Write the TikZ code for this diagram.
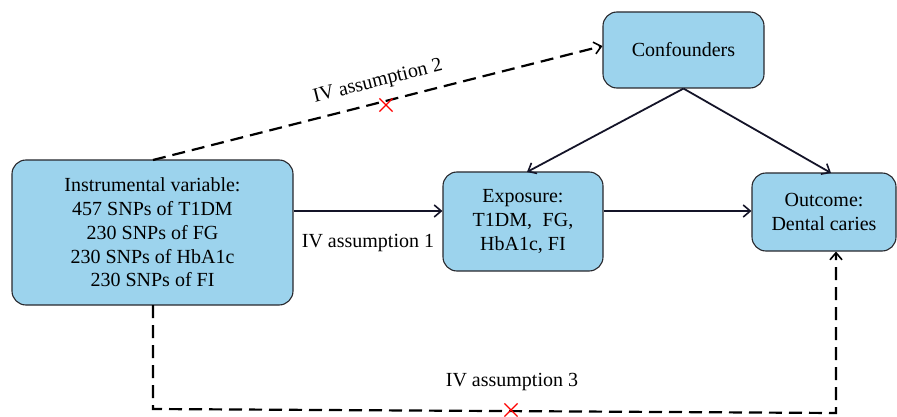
\documentclass[tikz,border=0pt]{standalone}
\usepackage{fontspec}
\setmainfont{Liberation Serif}
\usetikzlibrary{arrows.meta,shapes.misc}
\definecolor{boxblue}{RGB}{156,211,237}
\definecolor{boxline}{RGB}{40,40,45}
\definecolor{arrowc}{RGB}{20,20,40}
\begin{document}
\begin{tikzpicture}[x=1pt,y=-1pt,
  box/.style={draw=boxline, line width=1.1pt, fill=boxblue, rounded corners=14pt, align=center, font=\fontsize{20}{23.7}\selectfont, inner sep=0pt},
  arr/.style={draw=arrowc, line width=1.8pt, -{Straight Barb[length=7pt,width=12pt,line width=1.6pt]}},
  darr/.style={draw=black, line width=2.2pt, dash pattern=on 13pt off 7pt, -{Straight Barb[length=7pt,width=12pt,line width=1.6pt]}},
  lbl/.style={font=\fontsize{20}{24}\selectfont, inner sep=0pt},
  cross/.style={cross out, draw=red, line width=1.2pt, minimum size=12pt, inner sep=0pt}
]
\useasboundingbox (0,0) rectangle (897,417);
\node[box, minimum width=281pt, minimum height=145pt] (iv) at (152.5,232.5)
  {Instrumental variable:\\457 SNPs of T1DM\\230 SNPs of FG\\230 SNPs of HbA1c\\230 SNPs of FI};
\node[box, minimum width=160pt, minimum height=99pt] (exp) at (523,221.5)
  {Exposure:\\ T1DM,\; FG,\\HbA1c, FI};
\node[box, minimum width=161pt, minimum height=76pt] (conf) at (683.5,50) {Confounders};
\node[box, minimum width=144pt, minimum height=78pt] (out) at (824,212) {Outcome:\\Dental caries};

\draw[arr] (iv.east |- 0,211) -- (exp.west |- 0,211);
\draw[arr] (exp.east |- 0,211) -- (out.west |- 0,211);
\draw[arr] (conf.south) -- (527,172);
\draw[arr] (conf.south) -- (831,173);

\coordinate (ivtop) at (153,160);
\coordinate (ivbot) at (153,305);
\coordinate (bl) at (153,409);
\coordinate (br) at (836,413);
\draw[darr] (ivtop) -- (conf.west |- 0,46);
\draw[darr] (ivbot) -- (bl) -- (br) -- (out.south -| 836,0);

\node[lbl, rotate=14] (a2) at (378,82) {IV assumption 2};
\node[lbl] (a1) at (368,243) {IV assumption 1};
\node[lbl] (a3) at (512,382) {IV assumption 3};
\node[cross] (x2) at (386,105) {};
\node[cross] (x3) at (511,410) {};
\end{tikzpicture}
\end{document}
